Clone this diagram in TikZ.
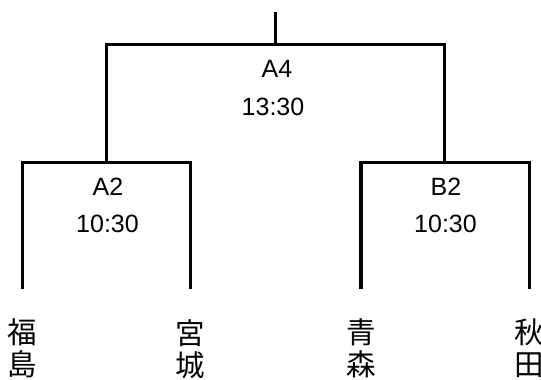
\documentclass[tikz,border=0pt]{standalone}
\usepackage{fontspec}
\setmainfont{Noto Sans CJK JP}
\newfontfamily\latinfont{Liberation Sans}
\begin{document}
\begin{tikzpicture}[x=1pt,y=-1pt,
  bracket/.style={line width=3.5pt, line cap=butt, line join=miter},
  lab/.style={font=\latinfont\fontsize{25}{25}\selectfont, inner sep=0pt, anchor=center},
  team/.style={font=\fontsize{29.5}{32}\selectfont, inner sep=0pt, align=center, anchor=north}]
\useasboundingbox (0,0) rectangle (541,380);
% coordinates
\coordinate (top) at (275.5,12);
\coordinate (fm) at (275.5,44.5);
\coordinate (fl) at (106.5,44.5);
\coordinate (fr) at (444.5,44.5);
\coordinate (al) at (22.5,162.5);
\coordinate (am) at (106.5,162.5);
\coordinate (ar) at (190.5,162.5);
\coordinate (bl) at (361,162.5);
\coordinate (bm) at (444.5,162.5);
\coordinate (br) at (529.5,162.5);
\coordinate (e1) at (22.5,289);
\coordinate (e2) at (190.5,289);
\coordinate (e3) at (361,289);
\coordinate (e4) at (529.5,289);
% brackets
\draw[bracket] (top) -- (fm);
\draw[bracket] (am) -- (fl) -- (fr) -- (bm);
\draw[bracket] (e1) -- (al) -- (ar) -- (e2);
\draw[bracket] (e3) -- (bl) -- (br) -- (e4);
% labels
\node[lab] (a4) at (277,68.5) {A4};
\node[lab] (a4t) at (273,106.5) {13:30};
\node[lab] (a2) at (108,186.5) {A2};
\node[lab] (a2t) at (107.5,223.5) {10:30};
\node[lab] (b2) at (446,186.5) {B2};
\node[lab] (b2t) at (445.5,223.5) {10:30};
% teams
\node[team] (t1) at (22,319) {福\\島};
\node[team] (t2) at (190,319) {宮\\城};
\node[team] (t3) at (361,319) {青\\森};
\node[team] (t4) at (529,319) {秋\\田};
\end{tikzpicture}
\end{document}
